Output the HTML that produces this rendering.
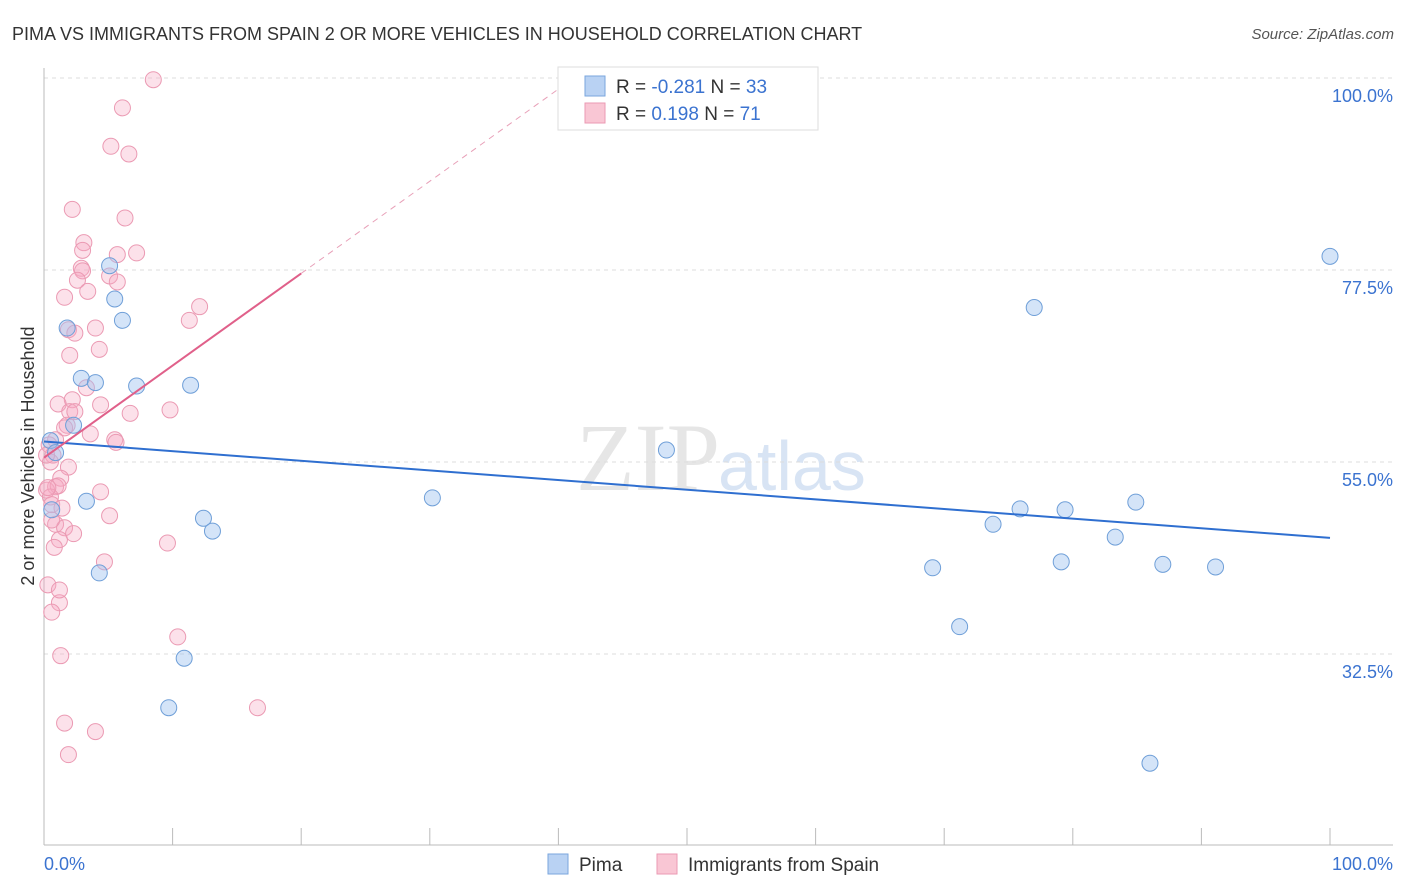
<!DOCTYPE html>
<html><head><meta charset="utf-8"><style>
body{margin:0;background:#fff;font-family:"Liberation Sans",sans-serif}
svg{display:block}
</style></head><body>
<svg id="chart" width="1406" height="892">
<text x="12" y="40" font-size="18" fill="#333">PIMA VS IMMIGRANTS FROM SPAIN 2 OR MORE VEHICLES IN HOUSEHOLD CORRELATION CHART</text>
<text x="1394" y="39" font-size="15" fill="#555" font-style="italic" text-anchor="end">Source: ZipAtlas.com</text>
<text x="720" y="490" font-size="96" fill="#e6e6e6" font-family="Liberation Serif,serif" text-anchor="end">ZIP</text>
<text x="718" y="490" font-size="70" fill="#d8e4f4">atlas</text>
<g id="grid"></g><g id="marks"></g>
<text transform="translate(34,456) rotate(-90)" font-size="18" fill="#333" text-anchor="middle">2 or more Vehicles in Household</text>
<text x="44" y="870" font-size="18" fill="#3b73d0">0.0%</text>
<text x="1393" y="870" font-size="18" fill="#3b73d0" text-anchor="end">100.0%</text>
<g>
<rect x="558" y="67" width="260" height="63" fill="#fff" stroke="#ddd"/>
<rect x="585" y="76" width="20" height="20" fill="#b9d2f3" stroke="#7aa6de"/>
<rect x="585" y="103" width="20" height="20" fill="#f9c6d4" stroke="#eb9ab3"/>
<text x="616" y="93" font-size="19" fill="#333">R = <tspan fill="#3b73d0">-0.281</tspan>   N = <tspan fill="#3b73d0">33</tspan></text>
<text x="616" y="120" font-size="19" fill="#333">R =   <tspan fill="#3b73d0">0.198</tspan>   N =  <tspan fill="#3b73d0">71</tspan></text>
</g>
<g>
<rect x="548" y="854" width="20" height="20" fill="#b9d2f3" stroke="#7aa6de"/>
<text x="579" y="871" font-size="19" fill="#333">Pima</text>
<rect x="657" y="854" width="20" height="20" fill="#f9c6d4" stroke="#eb9ab3"/>
<text x="688" y="871" font-size="19" fill="#333">Immigrants from Spain</text>
</g>
</svg>
<script>
const yTicks=[100,77.5,55,32.5];
const yTickLabels=["100.0%","77.5%","55.0%","32.5%"];
const xTicks=[0,10,20,30,40,50,60,70,80,90,100];
const pimaX=[100,77.0,5.1,5.5,6.1,1.8,2.9,4.0,7.2,11.4,2.3,0.5,0.9,48.4,30.2,3.3,12.4,13.1,4.3,73.8,75.9,79.4,84.9,83.3,69.1,79.1,87.0,91.1,71.2,10.9,9.7,86.0,0.6];
const pimaY=[79.1,73.1,78.0,74.1,71.6,70.7,64.8,64.3,63.9,64.0,59.3,57.5,56.1,56.4,50.8,50.4,48.4,46.9,42.0,47.7,49.5,49.4,50.3,46.2,42.6,43.3,43.0,42.7,35.7,32.0,26.2,19.7,49.4];
const spainX=[8.5,6.1,5.2,6.6,2.2,6.3,3.1,3.0,5.7,7.2,2.9,3.0,5.1,2.6,5.7,3.4,1.6,12.1,11.3,4.0,1.9,2.4,4.3,2.0,3.3,2.2,1.1,4.4,2.0,2.4,6.7,9.8,1.8,3.6,1.6,5.5,5.6,0.9,0.4,0.7,0.5,1.9,1.3,0.9,0.2,1.1,4.4,0.5,0.6,1.4,5.1,0.9,1.6,2.3,1.2,0.8,9.6,4.7,0.3,1.2,0.6,10.4,1.3,16.6,1.6,4.0,1.9,0.2,0.6,1.2,0.3];
const spainY=[99.8,96.5,92.0,91.1,84.6,83.6,80.7,79.8,79.3,79.5,77.7,77.4,76.8,76.3,76.1,75.0,74.3,73.2,71.6,70.7,70.5,70.1,68.2,67.5,63.7,62.3,61.8,61.7,60.9,60.9,60.7,61.1,59.3,58.3,59.0,57.6,57.3,57.6,57.0,55.8,55.0,54.4,53.1,52.1,51.7,52.2,51.5,50.9,50.0,49.6,48.7,47.7,47.3,46.6,45.9,45.0,45.5,43.3,40.6,38.5,37.4,34.5,32.3,26.2,24.4,23.4,20.7,55.8,48.2,40.0,52.0];
const pimaTrend=[57.4,46.1];
const spainTrend=[55.5,1.08];
const NS="http://www.w3.org/2000/svg";
const X=v=>44+v*12.86, Y=v=>78+(100-v)*8.533;
function mk(t,a,p){const e=document.createElementNS(NS,t);for(const k in a)e.setAttribute(k,a[k]);p.appendChild(e);return e;}
const g=document.getElementById('grid'),m=document.getElementById('marks');
yTicks.forEach((t,i)=>{
 const l=mk('line',{x1:44,x2:1393,y1:Y(t),y2:Y(t),stroke:'#ddd','stroke-dasharray':'4,4'},g);
 
 
 const tx=mk('text',{x:1393,y:Y(t)+24,'font-size':18,fill:'#3b73d0','text-anchor':'end'},g);
 tx.textContent=yTickLabels[i];
 
 
});
const ax=mk('line',{x1:44,x2:1393,y1:845,y2:845,stroke:'#bbb'},g);


const ay=mk('line',{x1:44,x2:44,y1:68,y2:845,stroke:'#bbb'},g);


xTicks.forEach(t=>{
 const l=mk('line',{x1:X(t),x2:X(t),y1:828,y2:845,stroke:'#bbb'},g);
 
 
});
spainX.forEach((x,i)=>{
 const c=mk('circle',{cx:X(x),cy:Y(spainY[i]),r:8,fill:'rgba(245,170,195,0.35)',stroke:'#eb9ab3','stroke-width':1},m);
 
 
});
pimaX.forEach((x,i)=>{
 const c=mk('circle',{cx:X(x),cy:Y(pimaY[i]),r:8,fill:'rgba(160,195,240,0.45)',stroke:'#6f9fd8','stroke-width':1},m);
 
 
});
const bl=mk('line',{x1:X(0),y1:Y(pimaTrend[0]),x2:X(100),y2:Y(pimaTrend[1]),stroke:'#2f6fd0','stroke-width':2},m);


const xEnd=(100-spainTrend[0])/spainTrend[1];
const pl=mk('line',{x1:X(0),y1:Y(spainTrend[0]),x2:X(20),y2:Y(spainTrend[0]+20*spainTrend[1]),stroke:'#e0608a','stroke-width':2},m);


const pd=mk('line',{x1:X(20),y1:Y(spainTrend[0]+20*spainTrend[1]),x2:X(xEnd),y2:Y(100),stroke:'#e8a0b8','stroke-width':1,'stroke-dasharray':'6,5'},m);


</script>
</body></html>
